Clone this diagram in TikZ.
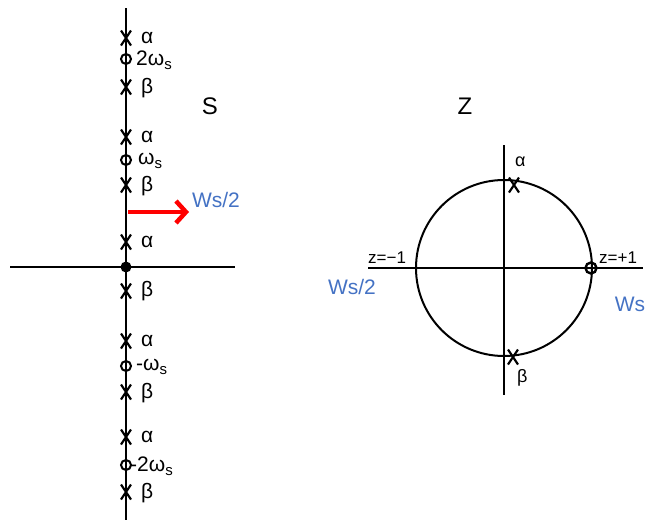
\documentclass[tikz,border=0pt]{standalone}
\usepackage{fontspec}
\setmainfont{Liberation Sans}
\usetikzlibrary{arrows.meta}
\definecolor{wsblue}{HTML}{4472C4}
\newcommand{\subs}{\raisebox{-0.4ex}{\fontsize{15}{15}\selectfont s}}
\begin{document}
\begin{tikzpicture}[x=1pt,y=-1pt,
  axis/.style={line width=2.4pt},
  lbl/.style={anchor=west,inner sep=0pt,font=\fontsize{21}{21}\selectfont},
  bl/.style={text=wsblue,inner sep=0pt,font=\fontsize{21}{21}\selectfont},
  xmk/.style={line width=2.2pt},
  omk/.style={line width=2pt}]
\useasboundingbox (0,0) rectangle (657,520);
% left plane
\coordinate (vt) at (126,8);
\coordinate (vb) at (126,520);
\coordinate (hl) at (10,267);
\coordinate (hr) at (235,267);
\draw[axis] (vt) -- (vb);
\draw[axis] (hl) -- (hr);
\newcommand{\xmark}[2]{\draw[xmk] (#1-5,#2-7.5) -- (#1+5,#2+7.5) (#1+5,#2-7.5) -- (#1-5,#2+7.5);}
\newcommand{\omark}[2]{\draw[omk] (#1,#2) circle (5);}
\foreach \y in {38,87,137,185,242,291,341,392,437,492} {\xmark{126}{\y}}
\foreach \y in {59,160,366,465} {\omark{126}{\y}}
\fill (126,267) circle (5.5);
\node[lbl] (a1) at (141,38) {α};
\node[lbl] (w1) at (136,60) {2ω\subs};
\node[lbl] (b1) at (141,88) {β};
\node[lbl] (a2) at (141,137) {α};
\node[lbl] (w2) at (138,161) {ω\subs};
\node[lbl] (b2) at (141,186) {β};
\node[lbl] (a3) at (141,242) {α};
\node[lbl] (b3) at (141,291) {β};
\node[lbl] (a4) at (141,341) {α};
\node[lbl] (w4) at (136,367) {-ω\subs};
\node[lbl] (b4) at (141,393) {β};
\node[lbl] (a5) at (141,437) {α};
\node[lbl] (w5) at (130,466) {-2ω\subs};
\node[lbl] (b5) at (141,493) {β};
\node[font=\fontsize{24}{24}\selectfont,inner sep=0pt] (S) at (210,106) {S};
\coordinate (ra) at (128,212);
\coordinate (rb) at (189,212);
\draw[red,line width=4.5pt,-{Straight Barb[length=10pt,width=22pt,line width=4.5pt]}] (ra) -- (rb);
\node[bl] (ws2a) at (216,200) {Ws/2};
% right plane
\node[font=\fontsize{24}{24}\selectfont,inner sep=0pt] (Z) at (465,106) {Z};
\coordinate (zc) at (504,268);
\draw[line width=2pt] (zc) circle (88);
\coordinate (zvt) at (504,145);
\coordinate (zvb) at (504,395);
\coordinate (zhl) at (368,268);
\coordinate (zhr) at (643,268);
\draw[axis] (zvt) -- (zvb);
\draw[axis] (zhl) -- (zhr);
\xmark{514}{185}
\xmark{513}{357}
\draw[line width=2.4pt] (591,268) circle (5.5);
\node[lbl,font=\fontsize{18}{18}\selectfont] (za) at (515,162) {α};
\node[lbl,font=\fontsize{18}{18}\selectfont] (zb) at (517,378) {β};
\node[lbl,font=\fontsize{17}{17}\selectfont] (zm1) at (368,258) {z=−1};
\node[lbl,font=\fontsize{17}{17}\selectfont] (zp1) at (599,258) {z=+1};
\node[bl] (ws2b) at (352,287) {Ws/2};
\node[bl] (ws) at (630,304) {Ws};
\end{tikzpicture}
\end{document}
